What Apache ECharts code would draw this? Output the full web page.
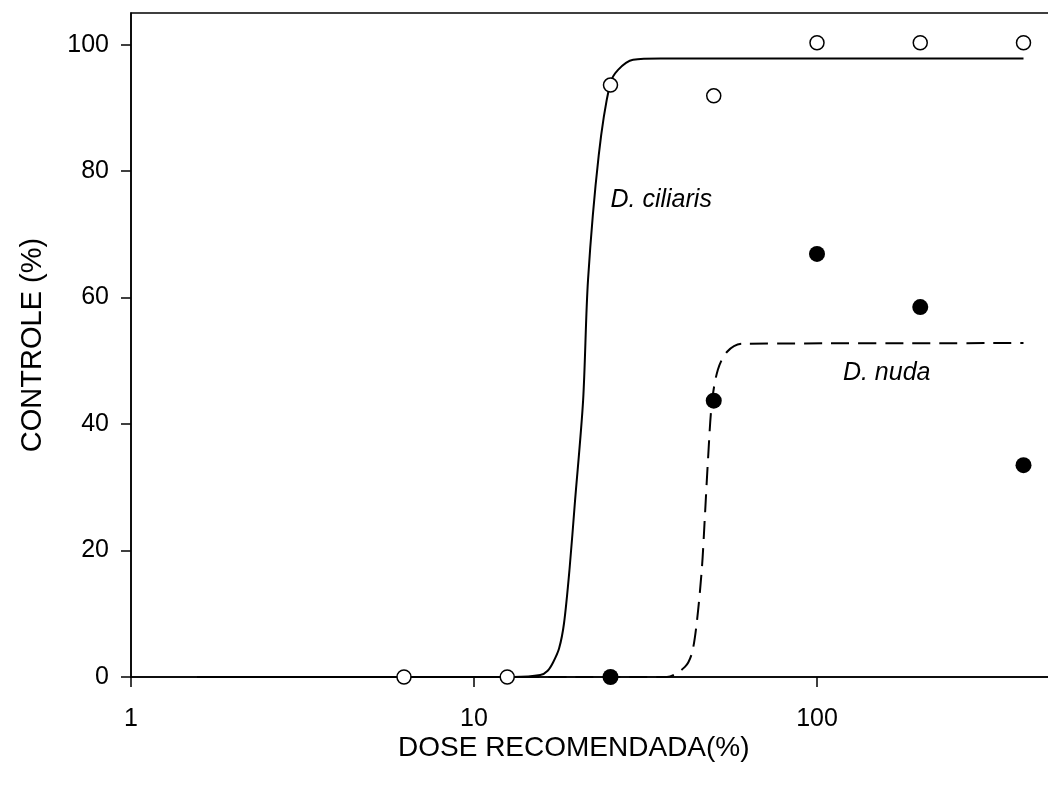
<!DOCTYPE html>
<html>
<head>
<meta charset="utf-8">
<script src="https://cdn.jsdelivr.net/npm/echarts@6/dist/echarts.min.js"></script>
<style>html,body{margin:0;padding:0;background:#fff}#c{width:1048px;height:787px}</style>
</head>
<body>
<div id="c"></div>
<script>
// Observed points
const doses = [6.25, 12.5, 25, 50, 100, 200, 400];
const ciliarisObs = [0, 0, 93.6, 91.9, 100.3, 100.3, 100.3];
const nudaDoses = [25, 50, 100, 200, 400];
const nudaObs = [0, 43.7, 66.9, 58.5, 33.5];
// Fitted curves
const ciliarisFitX = [1.56, 13, 15.6, 16.4, 17.0, 17.7, 18.3, 19.0, 19.7, 20.8, 21.5, 23.1, 24.9, 26.3, 29.1, 35, 400];
const ciliarisFitY = [0, 0, 0.3, 1.0, 2.3, 4.5, 8.5, 17.2, 27.8, 43.7, 62.8, 82.5, 93.7, 96.0, 97.6, 97.8, 97.8];
const nudaFitX = [1.56, 30, 36.5, 41.2, 43.2, 44.7, 46.2, 47.1, 48.1, 49.4, 51.4, 54.6, 60.4, 400];
const nudaFitY = [0, 0, 0, 1.6, 3.8, 9.0, 17.4, 25.3, 34.3, 43.5, 48.6, 51.4, 52.7, 52.8];
// Tick labels
const yTicks = [0, 20, 40, 60, 80, 100];
// Annotations
const labels = [
  {text: 'D. ciliaris', x: 25, y: 75.4},
  {text: 'D. nuda', x: 119, y: 48.1}
];

const zip = (a, b) => a.map((v, i) => [v, b[i]]);
const FONT = 'Liberation Sans';
const chart = echarts.init(document.getElementById('c'), null, {renderer: 'canvas'});
chart.setOption({
  animation: false,
  backgroundColor: '#fff',
  grid: {left: 131, top: 13, bottom: 110, width: 1029, outerBoundsMode: 'none', containLabel: false,
         show: true, borderColor: '#000', borderWidth: 1.5},
  xAxis: {
    type: 'log', logBase: 10, min: 1, max: 1000,
    axisLine: {lineStyle: {color: '#000', width: 1.5}},
    axisTick: {inside: false, length: 10, lineStyle: {color: '#000', width: 1.5}},
    minorTick: {show: false},
    splitLine: {show: false},
    axisLabel: {color: '#000', fontFamily: FONT, fontSize: 25, margin: 30}
  },
  yAxis: {
    type: 'value', min: 0, max: 105,
    name: 'CONTROLE (%)', nameLocation: 'middle', nameGap: 84,
    nameTextStyle: {color: '#000', fontFamily: FONT, fontSize: 29},
    axisLine: {show: true, lineStyle: {color: '#000', width: 1.5}},
    axisTick: {show: true, inside: false, length: 10, customValues: yTicks, lineStyle: {color: '#000', width: 1.5}},
    splitLine: {show: false},
    axisLabel: {color: '#000', fontFamily: FONT, fontSize: 25, margin: 22, customValues: yTicks}
  },
  graphic: [{
    type: 'text', left: 398, top: 734,
    style: {text: 'DOSE RECOMENDADA(%)', fill: '#000', font: '28px "Liberation Sans"'}
  }],
  series: [
    {type: 'line', data: zip(ciliarisFitX, ciliarisFitY), showSymbol: false, smooth: 0.3,
     lineStyle: {color: '#000', width: 2}, z: 2},
    {type: 'line', data: zip(nudaFitX, nudaFitY), showSymbol: false, smooth: 0.3,
     lineStyle: {color: '#000', width: 2, type: [18, 9]}, z: 2},
    {type: 'scatter', data: zip(doses, ciliarisObs), symbol: 'circle', symbolSize: 14,
     itemStyle: {color: '#fff', borderColor: '#000', borderWidth: 1.5, opacity: 1}, z: 3},
    {type: 'scatter', data: zip(nudaDoses, nudaObs), symbol: 'circle', symbolSize: 16,
     itemStyle: {color: '#000', opacity: 1}, z: 4},
    {type: 'scatter', data: labels.map(l => ({value: [l.x, l.y], name: l.text})), symbolSize: 0,
     silent: true, z: 5, itemStyle: {opacity: 1},
     label: {show: true, position: [0, 0], align: 'left', verticalAlign: 'middle',
       formatter: p => p.name, color: '#000', fontFamily: FONT, fontStyle: 'italic', fontSize: 25}}
  ]
});
</script>
</body>
</html>
